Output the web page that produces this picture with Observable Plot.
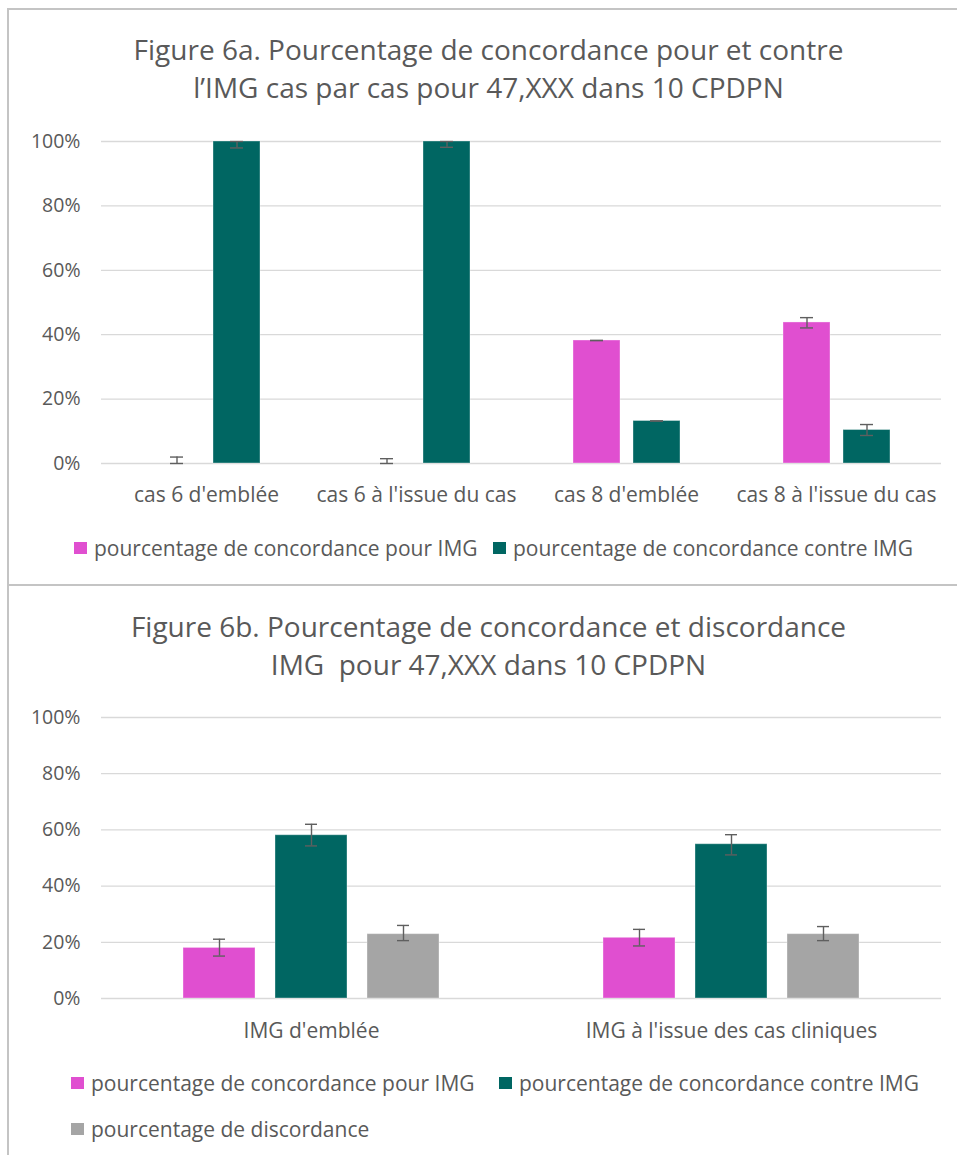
<!DOCTYPE html>
<html><head><meta charset="utf-8">
<script src="https://cdn.jsdelivr.net/npm/d3@7"></script>
<script src="https://cdn.jsdelivr.net/npm/@observablehq/plot@0.6"></script>
<style>
body{margin:0;background:#fff;font-family:"Open Sans",sans-serif;color:#595959}
#root{position:relative;width:957px;height:1155px;overflow:hidden;background:#fff}
.line{position:absolute;background:#c4c4c4}
.title{position:absolute;left:0;width:977px;text-align:center;font-size:28px;line-height:38px;white-space:pre;color:#595959}
.leg{position:absolute;font-size:21px;line-height:26px;white-space:pre;display:flex;align-items:center;color:#595959}
.sw{display:inline-block;width:13px;height:12px;margin-right:7px}
.chart{position:absolute;left:0}
</style></head>
<body><div id="root"></div>
<script>
// ---------- Figure 6a data ----------
const catsA = ["cas 6 d'emblée", "cas 6 à l'issue du cas", "cas 8 d'emblée", "cas 8 à l'issue du cas"];
const seriesA = ["pourcentage de concordance pour IMG", "pourcentage de concordance contre IMG"];
const pourA      = [0,   0,   38.2, 43.8];
const pourALow   = [0,   0,   38.2, 42.1];
const pourAHigh  = [2.0, 1.5, 38.2, 45.3];
const contreA     = [100,  100,  13.2, 10.4];
const contreALow  = [98.0, 98.2, 13.2, 8.7];
const contreAHigh = [100,  100,  13.2, 12.1];

// ---------- Figure 6b data ----------
const catsB = ["IMG d'emblée", "IMG à l'issue des cas cliniques"];
const seriesB = ["pourcentage de concordance pour IMG", "pourcentage de concordance contre IMG", "pourcentage de discordance"];
const pourB      = [18.0, 21.6];
const pourBLow   = [15.1, 18.7];
const pourBHigh  = [21.1, 24.6];
const contreB     = [58.1, 54.9];
const contreBLow  = [54.3, 51.1];
const contreBHigh = [62.0, 58.3];
const discB     = [22.9, 22.9];
const discBLow  = [20.6, 20.6];
const discBHigh = [26.0, 25.6];

const yTicks = [0, 20, 40, 60, 80, 100];
const colorsA = ["#E04FD0", "#006662"];
const colorsB = ["#E04FD0", "#006662", "#A5A5A5"];

const titleA = ["Figure 6a. Pourcentage de concordance pour et contre", "l\u2019IMG cas par cas pour 47,XXX dans 10 CPDPN"];
const titleB = ["Figure 6b. Pourcentage de concordance et discordance", "IMG  pour 47,XXX dans 10 CPDPN"];

// build tables
const dataA = [];
catsA.forEach((c, i) => {
  dataA.push({cat: c, s: seriesA[0], v: pourA[i], lo: pourALow[i], hi: pourAHigh[i]});
  dataA.push({cat: c, s: seriesA[1], v: contreA[i], lo: contreALow[i], hi: contreAHigh[i]});
});
const dataB = [];
catsB.forEach((c, i) => {
  dataB.push({cat: c, s: seriesB[0], v: pourB[i], lo: pourBLow[i], hi: pourBHigh[i]});
  dataB.push({cat: c, s: seriesB[1], v: contreB[i], lo: contreBLow[i], hi: contreBHigh[i]});
  dataB.push({cat: c, s: seriesB[2], v: discB[i], lo: discBLow[i], hi: discBHigh[i]});
});

const root = document.getElementById("root");
function addLine(l, t, w, h) {
  const d = document.createElement("div");
  d.className = "line";
  Object.assign(d.style, {left: l + "px", top: t + "px", width: w + "px", height: h + "px"});
  root.appendChild(d);
}
function addTitle(lines, top) {
  const d = document.createElement("div");
  d.className = "title";
  d.style.top = top + "px";
  d.textContent = lines.join("\n");
  root.appendChild(d);
}
function addLegend(name, color, left, cy) {
  const d = document.createElement("div");
  d.className = "leg";
  d.style.left = left + "px";
  d.style.top = (cy - 13) + "px";
  const sw = document.createElement("span");
  sw.className = "sw";
  sw.style.background = color;
  d.appendChild(sw);
  d.appendChild(document.createTextNode(name));
  root.appendChild(d);
}

function makeChart(data, cats, series, colors, opts) {
  const chart = Plot.plot({
    width: 957,
    height: opts.height,
    marginLeft: 101,
    marginRight: 16,
    marginTop: opts.marginTop,
    marginBottom: opts.marginBottom,
    style: {fontFamily: "Open Sans", fontSize: "19.5px", color: "#595959", background: "transparent", overflow: "visible"},
    fx: {domain: cats, padding: 0, label: null},
    x: {domain: series, paddingInner: opts.pi, paddingOuter: opts.po, axis: null},
    y: {domain: [0, 100], axis: null},
    color: {domain: series, range: colors},
    marks: [
      Plot.gridY(yTicks, {stroke: "#d9d9d9", strokeOpacity: 1, strokeWidth: 1.3}),
      Plot.axisY({ticks: yTicks, tickFormat: d => d + "%", tickSize: 0, tickPadding: 21, fontSize: 19.5}),
      Plot.axisFx({anchor: "bottom", tickSize: 0, tickPadding: opts.fxPad, fontSize: 21, label: null}),
      Plot.barY(data, {fx: "cat", x: "s", y: "v", fill: "s", stroke: "#ffffff", strokeOpacity: 0.35, strokeWidth: 1}),
      Plot.ruleX(data, {fx: "cat", x: "s", y1: "lo", y2: "hi", stroke: "#5f5f5f", strokeWidth: 1.4}),
      Plot.tickY(data, {fx: "cat", x: "s", y: "hi", stroke: "#5f5f5f", strokeWidth: 1.4, inset: opts.capInset}),
      Plot.tickY(data, {fx: "cat", x: "s", y: "lo", stroke: "#5f5f5f", strokeWidth: 1.4, inset: opts.capInset})
    ]
  });
  chart.classList.add("chart");
  chart.style.top = opts.top + "px";
  chart.style.position = "absolute";
  root.appendChild(chart);
}

// frame lines
addLine(8, 8, 949, 2);
addLine(7, 8, 2, 1147);
addLine(8, 584, 949, 2);

// Figure 6a
addTitle(titleA, 30);
makeChart(dataA, catsA, seriesA, colorsA, {top: 120, height: 400, marginTop: 21, marginBottom: 57, pi: 0.217, po: 0.858, capInset: 17, fxPad: 23.5});
addLegend(seriesA[0], colorsA[0], 74, 548);
addLegend(seriesA[1], colorsA[1], 493, 548);

// Figure 6b
addTitle(titleB, 607);
makeChart(dataB, catsB, seriesB, colorsB, {top: 700, height: 360, marginTop: 17, marginBottom: 62, pi: 0.215, po: 0.866, capInset: 30, fxPad: 24.5});
addLegend(seriesB[0], colorsB[0], 71, 1083);
addLegend(seriesB[1], colorsB[1], 499, 1083);
addLegend(seriesB[2], colorsB[2], 71, 1129);
</script>
</body></html>
